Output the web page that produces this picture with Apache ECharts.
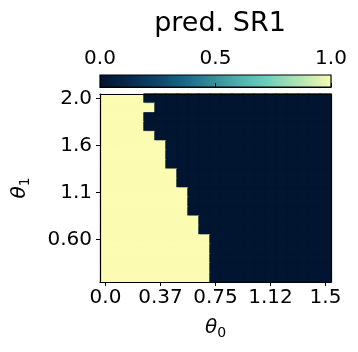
<!DOCTYPE html>
<html>
<head>
<meta charset="utf-8">
<script src="https://cdn.jsdelivr.net/npm/echarts@6/dist/echarts.min.js"></script>
<style>
html,body{margin:0;padding:0;background:#fff;}
#chart{width:358px;height:352px;}
</style>
</head>
<body>
<div id="chart"></div>
<script>
// theta0 grid (columns) and theta1 grid (rows, top to bottom)
const thetaX = [0.0, 0.075, 0.15, 0.225, 0.3, 0.375, 0.45, 0.525, 0.6, 0.675, 0.75,
                0.825, 0.9, 0.975, 1.05, 1.125, 1.2, 1.275, 1.35, 1.425, 1.5];
const rowIds = [0,1,2,3,4,5,6,7,8,9,10,11,12,13,14,15,16,17,18,19];
const xTickIdx = [0, 5, 10, 15, 20];
const xTickLabels = ['0.0', '0.37', '0.75', '1.12', '1.5'];
const yTickIdx = [0, 5, 10, 15];
const yTickLabels = ['2.0', '1.6', '1.1', '0.60'];

// predicted SR1 (rows from top θ1=2.0 downwards, columns θ0 from 0 to 1.5)
const predSR1 = [
  [1,1,1,1,0,0,0,0,0,0,0,0,0,0,0,0,0,0,0,0,0],
  [1,1,1,1,1,0,0,0,0,0,0,0,0,0,0,0,0,0,0,0,0],
  [1,1,1,1,0,0,0,0,0,0,0,0,0,0,0,0,0,0,0,0,0],
  [1,1,1,1,0,0,0,0,0,0,0,0,0,0,0,0,0,0,0,0,0],
  [1,1,1,1,1,0,0,0,0,0,0,0,0,0,0,0,0,0,0,0,0],
  [1,1,1,1,1,1,0,0,0,0,0,0,0,0,0,0,0,0,0,0,0],
  [1,1,1,1,1,1,0,0,0,0,0,0,0,0,0,0,0,0,0,0,0],
  [1,1,1,1,1,1,0,0,0,0,0,0,0,0,0,0,0,0,0,0,0],
  [1,1,1,1,1,1,1,0,0,0,0,0,0,0,0,0,0,0,0,0,0],
  [1,1,1,1,1,1,1,0,0,0,0,0,0,0,0,0,0,0,0,0,0],
  [1,1,1,1,1,1,1,1,0,0,0,0,0,0,0,0,0,0,0,0,0],
  [1,1,1,1,1,1,1,1,0,0,0,0,0,0,0,0,0,0,0,0,0],
  [1,1,1,1,1,1,1,1,0,0,0,0,0,0,0,0,0,0,0,0,0],
  [1,1,1,1,1,1,1,1,1,0,0,0,0,0,0,0,0,0,0,0,0],
  [1,1,1,1,1,1,1,1,1,0,0,0,0,0,0,0,0,0,0,0,0],
  [1,1,1,1,1,1,1,1,1,1,0,0,0,0,0,0,0,0,0,0,0],
  [1,1,1,1,1,1,1,1,1,1,0,0,0,0,0,0,0,0,0,0,0],
  [1,1,1,1,1,1,1,1,1,1,0,0,0,0,0,0,0,0,0,0,0],
  [1,1,1,1,1,1,1,1,1,1,0,0,0,0,0,0,0,0,0,0,0],
  [1,1,1,1,1,1,1,1,1,1,0,0,0,0,0,0,0,0,0,0,0]
];

const cmapStops = [
  [0.00, '#011530'], [0.12, '#06284a'], [0.25, '#0e4468'], [0.37, '#176a89'],
  [0.50, '#3a8f9b'], [0.62, '#52b7af'], [0.72, '#6acfbb'], [0.82, '#9fdeb4'],
  [0.92, '#cdeeb2'], [1.00, '#fbfcb2']
];
const lowColor = cmapStops[0][1];
const highColor = cmapStops[cmapStops.length - 1][1];

const heatData = [];
predSR1.forEach((row, r) => row.forEach((v, c) => {
  const col = v >= 0.5 ? highColor : lowColor;
  heatData.push({value: [c, r, v], itemStyle: {color: col, borderColor: col, borderWidth: 0.8}});
}));

const FONT = 'DejaVu Sans';
const chart = echarts.init(document.getElementById('chart'), null, {renderer: 'canvas'});

const thetaName = (sub) => '{t|θ}{s|' + sub + '}';
const thetaRich = {
  t: {fontFamily: FONT, fontStyle: 'italic', fontSize: 20, color: '#000'},
  s: {fontFamily: FONT, fontSize: 14, color: '#000', padding: [10, 0, 0, 0]}
};

chart.setOption({
  animation: false,
  backgroundColor: '#fff',
  title: {
    text: 'pred. SR1', left: 215, top: 5, textAlign: 'center',
    textStyle: {fontFamily: FONT, fontSize: 27, fontWeight: 'normal', color: '#000'}
  },
  grid: [
    {left: 100, top: 94, width: 231, height: 188, show: false},
    {left: 100, top: 75, width: 231, height: 12, show: false}
  ],
  xAxis: [
    {
      type: 'category', gridIndex: 0, data: thetaX, position: 'bottom', z: 10,
      name: thetaName('0'), nameLocation: 'middle', nameGap: 34,
      nameTextStyle: {rich: thetaRich},
      axisLine: {show: true, lineStyle: {color: '#000', width: 1.2}},
      axisTick: {show: true, alignWithLabel: true, length: 4,
                 interval: (i) => xTickIdx.includes(i), lineStyle: {color: '#000'}},
      axisLabel: {interval: (i) => xTickIdx.includes(i), margin: 6,
                  formatter: (v, i) => xTickLabels[xTickIdx.indexOf(i)] || '',
                  fontFamily: FONT, fontSize: 20, color: '#000'},
      splitLine: {show: false}
    },
    {
      type: 'category', gridIndex: 0, data: thetaX, position: 'top', z: 10,
      axisLine: {show: true, lineStyle: {color: '#000', width: 1.2}},
      axisTick: {show: false}, axisLabel: {show: false}, splitLine: {show: false}
    },
    {
      type: 'value', gridIndex: 1, min: 0, max: 1, interval: 0.5, position: 'top', z: 10,
      axisLine: {show: true, lineStyle: {color: '#000', width: 1.2}},
      axisTick: {show: true, length: 4, lineStyle: {color: '#000'}},
      axisLabel: {margin: 6, fontFamily: FONT, fontSize: 20, color: '#000',
                  formatter: (v) => v.toFixed(1)},
      splitLine: {show: false}
    }
  ],
  yAxis: [
    {
      type: 'category', gridIndex: 0, data: rowIds, inverse: true, position: 'left', z: 10,
      name: thetaName('1'), nameLocation: 'middle', nameGap: 68, nameRotate: 90,
      nameTextStyle: {rich: thetaRich},
      axisLine: {show: true, lineStyle: {color: '#000', width: 1.2}},
      axisTick: {show: true, alignWithLabel: true, length: 4,
                 interval: (i) => yTickIdx.includes(i), lineStyle: {color: '#000'}},
      axisLabel: {interval: (i) => yTickIdx.includes(i), margin: 8,
                  formatter: (v, i) => yTickLabels[yTickIdx.indexOf(i)] || '',
                  fontFamily: FONT, fontSize: 20, color: '#000'},
      splitLine: {show: false}
    },
    {
      type: 'category', gridIndex: 0, data: rowIds, inverse: true, position: 'right', z: 10,
      axisLine: {show: true, lineStyle: {color: '#000', width: 1.2}},
      axisTick: {show: false}, axisLabel: {show: false}, splitLine: {show: false}
    },
    {
      type: 'value', gridIndex: 1, min: 0, max: 1, show: false
    }
  ],
  series: [
    {
      type: 'heatmap', xAxisIndex: 0, yAxisIndex: 0, data: heatData,
      emphasis: {disabled: true}, progressive: 0
    },
    {
      type: 'custom', xAxisIndex: 2, yAxisIndex: 2, data: [[0, 0, 1, 1]], z: 3,
      renderItem: function (params, api) {
        const p0 = api.coord([api.value(0), api.value(1)]);
        const p1 = api.coord([api.value(2), api.value(3)]);
        return {
          type: 'rect',
          shape: {x: p0[0], y: p1[1], width: p1[0] - p0[0], height: p0[1] - p1[1]},
          style: {
            fill: new echarts.graphic.LinearGradient(0, 0, 1, 0,
              cmapStops.map(s => ({offset: s[0], color: s[1]}))),
            stroke: '#000', lineWidth: 1.2
          }
        };
      }
    }
  ]
});
</script>
</body>
</html>
